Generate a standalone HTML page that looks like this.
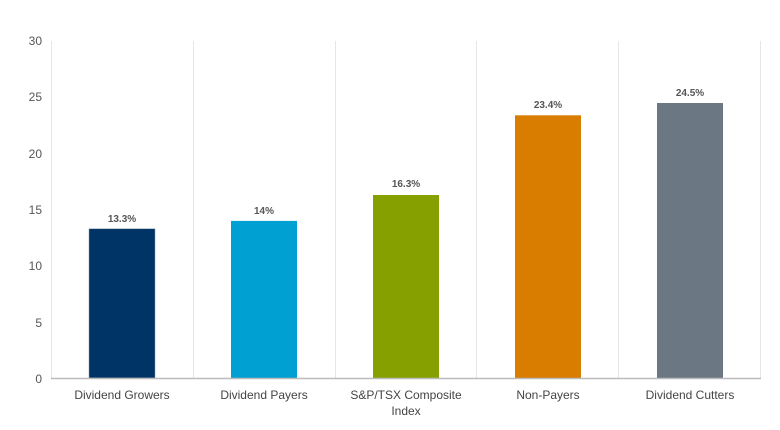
<!DOCTYPE html>
<html><head><meta charset="utf-8"><style>
html,body{margin:0;padding:0;background:#fff;}
svg{display:block;font-family:"Liberation Sans",sans-serif;}
</style></head><body>
<svg width="780" height="430" viewBox="0 0 780 430">
<g stroke="#e6e6e6" stroke-width="1">
<line x1="51.5" y1="41" x2="51.5" y2="378"/>
<line x1="193.5" y1="41" x2="193.5" y2="378"/>
<line x1="335.5" y1="41" x2="335.5" y2="378"/>
<line x1="476.5" y1="41" x2="476.5" y2="378"/>
<line x1="618.5" y1="41" x2="618.5" y2="378"/>
<line x1="760.5" y1="41" x2="760.5" y2="378"/>
</g>
<g font-size="12" fill="#555" text-anchor="end">
<text x="42" y="45">30</text>
<text x="42" y="101">25</text>
<text x="42" y="158">20</text>
<text x="42" y="214">15</text>
<text x="42" y="270">10</text>
<text x="42" y="327">5</text>
<text x="42" y="383">0</text>
</g>
<rect x="89" y="228.8" width="66" height="149.2" fill="#003366" stroke="#8899aa" stroke-width="0.5"/>
<rect x="231" y="220.9" width="66" height="157.1" fill="#00a0d2"/>
<rect x="373" y="195" width="66" height="183" fill="#86a000"/>
<rect x="515" y="115.3" width="66" height="262.7" fill="#d97d00"/>
<rect x="657" y="103" width="66" height="275" fill="#6b7782"/>
<line x1="51" y1="378.5" x2="761" y2="378.5" stroke="#bbb" stroke-width="1.5"/>
<g font-size="10" font-weight="bold" fill="#555" text-anchor="middle">
<text x="122" y="222">13.3%</text>
<text x="264" y="214">14%</text>
<text x="406" y="187">16.3%</text>
<text x="548" y="108">23.4%</text>
<text x="690" y="96">24.5%</text>
</g>
<g font-size="12" fill="#444" text-anchor="middle">
<text x="122" y="399">Dividend Growers</text>
<text x="264" y="399">Dividend Payers</text>
<text x="406" y="399">S&amp;P/TSX Composite</text>
<text x="406" y="415">Index</text>
<text x="548" y="399">Non-Payers</text>
<text x="690" y="399">Dividend Cutters</text>
</g>
</svg>
</body></html>
